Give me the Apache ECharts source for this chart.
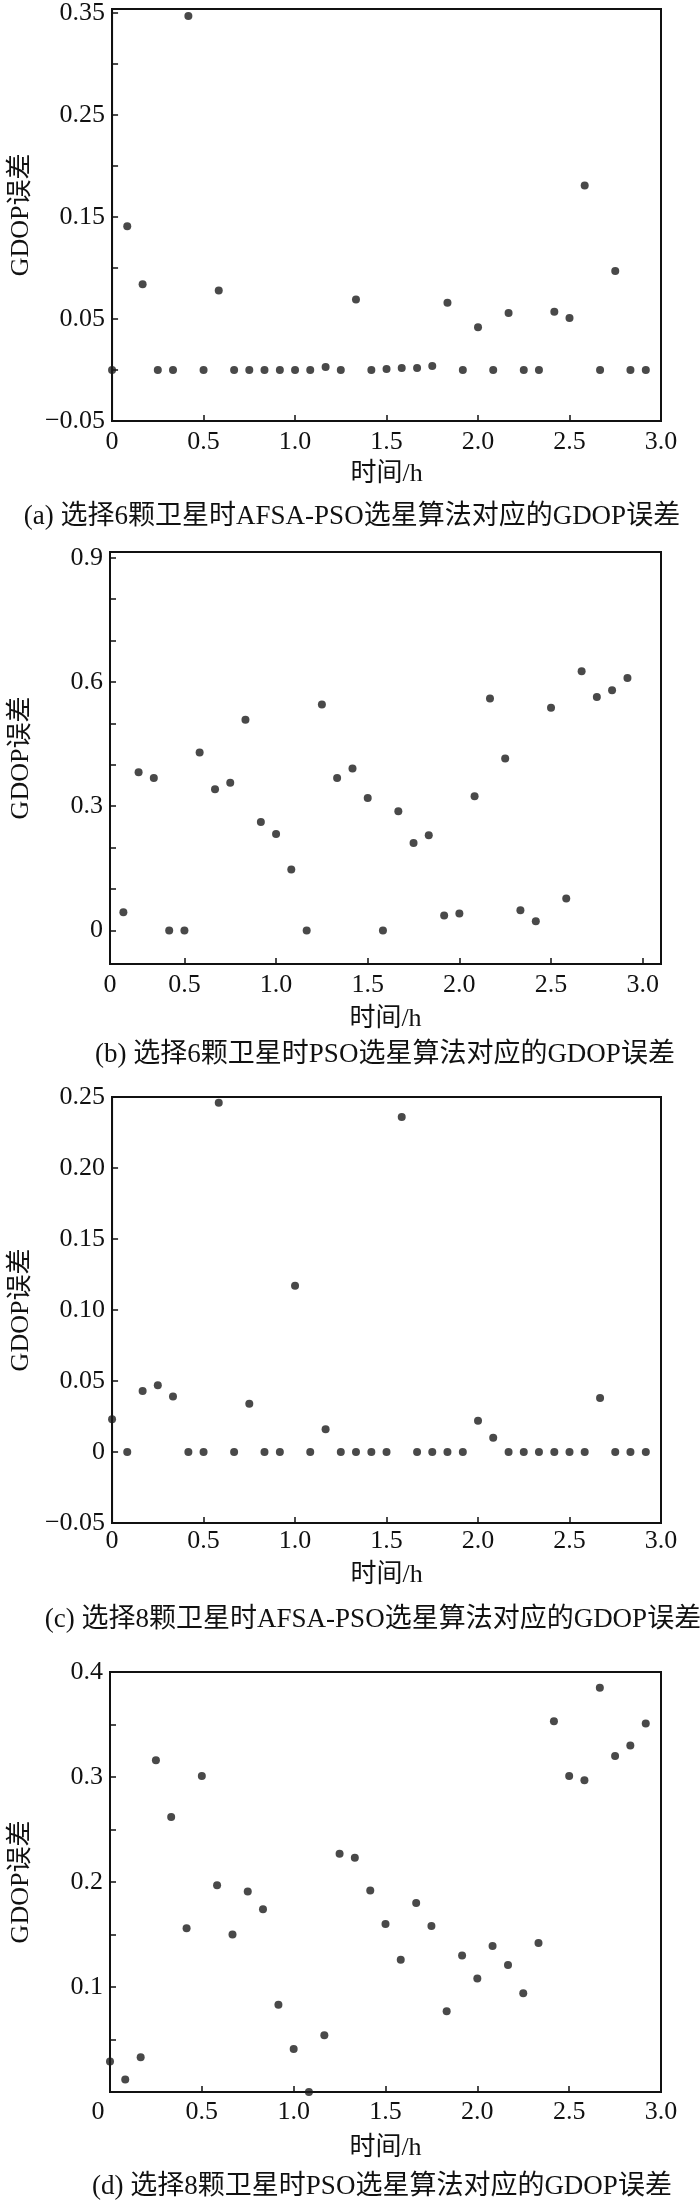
<!DOCTYPE html>
<html>
<head>
<meta charset="utf-8">
<script src="https://cdn.jsdelivr.net/npm/echarts@6/dist/echarts.min.js"></script>
<style>
html,body{margin:0;padding:0;background:#fff;}
#chart{width:700px;height:2200px;}
</style>
</head>
<body>
<div id="chart"></div>
<script>
// ---- data (time in hours, GDOP error) ----
const times = [0, 0.083, 0.167, 0.25, 0.333, 0.417, 0.5, 0.583, 0.667, 0.75, 0.833, 0.917,
  1.0, 1.083, 1.167, 1.25, 1.333, 1.417, 1.5, 1.583, 1.667, 1.75, 1.833, 1.917,
  2.0, 2.083, 2.167, 2.25, 2.333, 2.417, 2.5, 2.583, 2.667, 2.75, 2.833, 2.917];
const timesB = [0.167, 0.25, 0.333, 0.417, 0.5, 0.583, 0.667, 0.75, 0.833, 0.917,
  1.0, 1.083, 1.167, 1.25, 1.333, 1.417, 1.5, 1.583, 1.667, 1.75, 1.833, 1.917,
  2.0, 2.083, 2.167, 2.25, 2.333, 2.417, 2.5, 2.583, 2.667, 2.75, 2.833, 2.917];

const gdopA = [0, 0.141, 0.084, 0, 0, 0.347, 0, 0.078, 0, 0, 0, 0,
  0, 0, 0.003, 0, 0.069, 0, 0.001, 0.002, 0.002, 0.004, 0.066, 0,
  0.042, 0, 0.056, 0, 0, 0.057, 0.051, 0.181, 0, 0.097, 0, 0];
const gdopB = [0.044, 0.382, 0.368, 0, 0, 0.430, 0.341, 0.357, 0.509, 0.262,
  0.233, 0.147, 0, 0.546, 0.368, 0.391, 0.320, 0, 0.288, 0.211, 0.230, 0.036,
  0.041, 0.324, 0.560, 0.415, 0.049, 0.022, 0.538, 0.077, 0.626, 0.564, 0.580, 0.610];
const gdopC = [0.023, 0, 0.043, 0.047, 0.039, 0, 0, 0.246, 0, 0.034, 0, 0,
  0.117, 0, 0.016, 0, 0, 0, 0, 0.236, 0, 0, 0, 0,
  0.022, 0.010, 0, 0, 0, 0, 0, 0, 0.038, 0, 0, 0];
const gdopD = [0.029, 0.012, 0.033, 0.316, 0.262, 0.156, 0.301, 0.197, 0.150, 0.191, 0.174, 0.083,
  0.041, 0.000, 0.054, 0.227, 0.223, 0.192, 0.160, 0.126, 0.180, 0.158, 0.077, 0.130,
  0.108, 0.139, 0.121, 0.094, 0.142, 0.353, 0.301, 0.297, 0.385, 0.320, 0.330, 0.351];

// ---- tick labels ----
const xLabels = [0, 0.5, 1.0, 1.5, 2.0, 2.5, 3.0];
const xTicks = [0.5, 1.0, 1.5, 2.0, 2.5];
const xTicksB = [0.5, 1.0, 1.5, 2.0, 2.5, 3.0];
const yLabelsA = [-0.05, 0.05, 0.15, 0.25, 0.35];
const yTicksA = [-0.05, 0, 0.05, 0.10, 0.15, 0.20, 0.25, 0.30, 0.35];
const yLabelsB = [0, 0.3, 0.6, 0.9];
const yTicksB = [0, 0.1, 0.2, 0.3, 0.4, 0.5, 0.6, 0.7, 0.8, 0.9];
const yLabelsC = [-0.05, 0, 0.05, 0.10, 0.15, 0.20, 0.25];
const yLabelsD = [0.1, 0.2, 0.3, 0.4];
const yTicksD = [0.05, 0.1, 0.15, 0.2, 0.25, 0.3, 0.35];

const captions = [
  '(a) 选择6颗卫星时AFSA-PSO选星算法对应的GDOP误差',
  '(b) 选择6颗卫星时PSO选星算法对应的GDOP误差',
  '(c) 选择8颗卫星时AFSA-PSO选星算法对应的GDOP误差',
  '(d) 选择8颗卫星时PSO选星算法对应的GDOP误差'
];
const xName = '时间/h';
const yName = 'GDOP误差';

// ---- style ----
const FONT = "'Liberation Serif', 'Noto Sans CJK SC', serif";
const INK = '#111111';
const DOT = '#1c1c1c';

function fmt(v, d) {
  if (Math.abs(v) < 1e-9) return '0';
  return (v < 0 ? '\u2212' : '') + Math.abs(v).toFixed(d);
}

const panels = [
  {top: 5, height: 416, xmin: 0, xmax: 3.0, ymin: -0.05, ymax: 0.354,
   yl: yLabelsA, yt: yTicksA, yd: 2, xt: xTicks, xl: xLabels, xs: times, ys: gdopA,
   xm: 8, xg: 40, cap: 502, capX: 352},
  {top: 552, height: 412, xmin: 0.094, xmax: 3.1, ymin: -0.081, ymax: 0.914,
   yl: yLabelsB, yt: yTicksB, yd: 1, xt: xTicksB, xl: [0.094, 0.5, 1.0, 1.5, 2.0, 2.5, 3.0], xs: timesB, ys: gdopB,
   xm: 8, xg: 42, cap: 1040, capX: 385},
  {top: 1097, height: 426, xmin: 0, xmax: 3.0, ymin: -0.05, ymax: 0.25,
   yl: yLabelsC, yt: yLabelsC, yd: 2, xt: xTicks, xl: xLabels, xs: times, ys: gdopC,
   xm: 5, xg: 39, cap: 1605, capX: 373},
  {top: 1672, height: 420, xmin: 0, xmax: 3.0, ymin: 0, ymax: 0.4,
   yl: yLabelsD, yt: yTicksD, yd: 1, xt: xTicks, xl: xLabels, xs: times, ys: gdopD,
   xm: 7, xg: 43, cap: 2172, capX: 382, shiftZero: true}
];

const option = {
  animation: false,
  backgroundColor: '#fff',
  title: [], grid: [], xAxis: [], yAxis: [], series: []
};

panels.forEach((p, i) => {
  option.grid.push({left: 100, width: 561, top: p.top, height: p.height,
    show: true, borderColor: INK, borderWidth: 2, containLabel: false});
  option.title.push({text: captions[i], left: p.capX, top: p.cap, textAlign: 'center', padding: 0,
    textStyle: {fontFamily: FONT, fontSize: 27, fontWeight: 'normal', color: INK, lineHeight: 30}});
  option.xAxis.push({
    type: 'value', gridIndex: i, min: p.xmin, max: p.xmax,
    name: xName, nameLocation: 'middle', nameGap: p.xg,
    nameTextStyle: {fontFamily: FONT, fontSize: 26, color: INK},
    axisLine: {show: true, onZero: false, lineStyle: {color: INK, width: 2}},
    axisTick: {show: true, inside: true, length: 6, customValues: p.xt, lineStyle: {color: INK, width: 1.5}},
    splitLine: {show: false},
    axisLabel: {
      customValues: p.xl, margin: p.xm, fontFamily: FONT, fontSize: 26, color: INK,
      formatter: (v) => {
        if (v < 0.3) return p.shiftZero ? '{z|0}' : '0';
        return v.toFixed(1);
      },
      rich: {z: {fontFamily: FONT, fontSize: 26, color: INK, padding: [0, 24, 0, 0]}}
    }
  });
  option.yAxis.push({
    type: 'value', gridIndex: i, min: p.ymin, max: p.ymax,
    name: yName, nameLocation: 'middle', nameGap: 76,
    nameTextStyle: {fontFamily: FONT, fontSize: 26, color: INK},
    axisLine: {show: true, onZero: false, lineStyle: {color: INK, width: 2}},
    axisTick: {show: true, inside: true, length: 6, customValues: p.yt, lineStyle: {color: INK, width: 1.5}},
    splitLine: {show: false},
    axisLabel: {customValues: p.yl, margin: 7, fontFamily: FONT, fontSize: 26, color: INK,
      formatter: (v) => fmt(v, p.yd)}
  });
  option.series.push({
    type: 'scatter', xAxisIndex: i, yAxisIndex: i, clip: false,
    symbol: 'circle', symbolSize: 8, itemStyle: {color: DOT},
    data: p.xs.map((x, k) => [x, p.ys[k]])
  });
});

const chart = echarts.init(document.getElementById('chart'), null, {renderer: 'canvas'});
chart.setOption(option);
</script>
</body>
</html>
